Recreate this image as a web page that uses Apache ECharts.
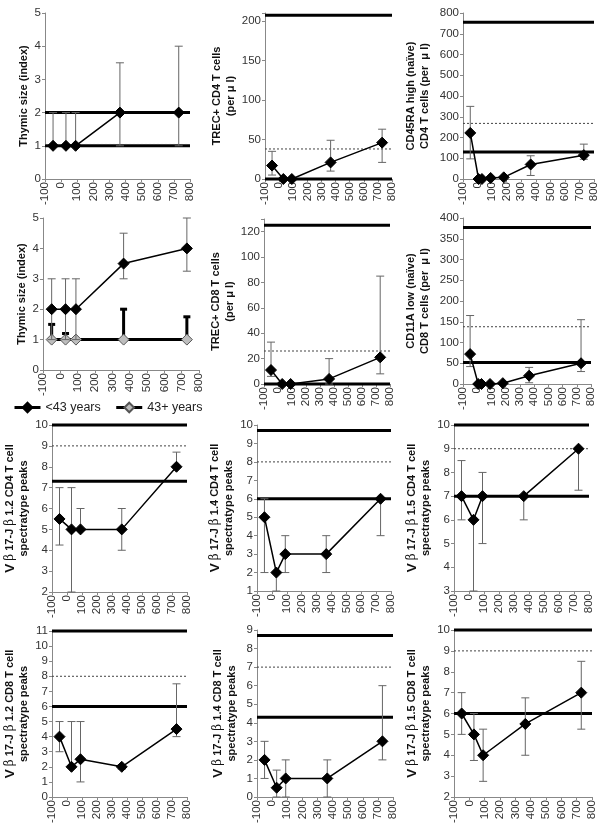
<!DOCTYPE html>
<html><head><meta charset="utf-8">
<script src="https://cdn.jsdelivr.net/npm/echarts@6/dist/echarts.min.js"></script>
<style>html,body{margin:0;padding:0;background:#fff}#c{width:604px;height:831px}</style>
</head><body><div id="c"></div>
<script>
// ---------- data ----------
const xTicks = [-100, 0, 100, 200, 300, 400, 500, 600, 700, 800];
const days5 = [-50, 30, 90, 365, 730];
const days7 = [-50, 7, 30, 90, 180, 365, 730];

const thymusAll = [1, 1, 1, 2, 2];
const thymusAllLo = [1, 1, 1, 1, 1];
const thymusAllHi = [2, 2, 2, 3.5, 4];

const trecCD4 = [17, 0, 0, 21, 46];
const trecCD4Lo = [5, 0, 0, 10, 21];
const trecCD4Hi = [35, 0, 0, 49, 63];

const naiveCD4 = [222, 0, 0, 5, 8, 70, 115];
const naiveCD4Lo = [97, 0, 0, 5, 8, 17, 95];
const naiveCD4Hi = [350, 0, 0, 5, 8, 112, 168];

const thymusYoung = [2, 2, 2, 3.5, 4];
const thymusYoungLo = [1, 1, 1, 3, 3.25];
const thymusYoungHi = [3, 3, 3, 4.5, 5];
const thymusOld = [1, 1, 1, 1, 1];
const thymusOldLo = [1, 1, 1, 1, 1];
const thymusOldHi = [1.5, 1.2, 1, 2, 1.75];

const trecCD8 = [11, 0, 0, 4, 21];
const trecCD8Lo = [6, 0, 0, 0, 8];
const trecCD8Hi = [33, 0, 0, 20, 85];

const naiveCD8 = [72, 0, 0, 0, 2, 20, 50];
const naiveCD8Lo = [42, 0, 0, 0, 2, 3, 30];
const naiveCD8Hi = [165, 0, 0, 0, 2, 40, 155];

const v12CD4 = [5.5, 5, 5, 5, 8];
const v12CD4Lo = [4.25, 2, 5, 4, 8];
const v12CD4Hi = [7, 7, 6, 6, 8.7];

const v14CD4 = [5, 2, 3, 3, 6];
const v14CD4Lo = [2, 1, 2, 2, 4];
const v14CD4Hi = [6, 2, 4, 4, 6];

const v15CD4 = [7, 6, 7, 7, 9];
const v15CD4Lo = [6, 3, 5, 6, 7.25];
const v15CD4Hi = [8.5, 6, 8, 7, 9];

const v12CD8 = [4, 2, 2.5, 2, 4.5];
const v12CD8Lo = [3, 2, 1, 1.85, 4];
const v12CD8Hi = [5, 5, 5, 2.15, 7.5];

const v14CD8 = [2, 0.5, 1, 1, 3];
const v14CD8Lo = [1, 0, 0, 0, 2];
const v14CD8Hi = [3, 1.45, 2, 2, 6];

const v15CD8 = [6, 5, 4, 5.5, 7];
const v15CD8Lo = [5, 3.75, 2.75, 4, 5.25];
const v15CD8Hi = [7, 6, 5.25, 6.75, 8.5];

// reference lines (thick solid / dotted)
const ref1Thick = [2, 1], ref1Dash = [1.04];
const ref2Thick = [207, 0], ref2Dash = [38];
const ref3Thick = [755, 130], ref3Dash = [268];
const ref5Thick = [125, 0], ref5Dash = [26];
const ref6Thick = [377, 52], ref6Dash = [138];
const ref7Thick = [10, 7.3], ref7Dash = [9];
const ref8Thick = [9.7, 6], ref8Dash = [8];
const ref9Thick = [10, 7], ref9Dash = [9];
const ref10Thick = [11, 6], ref10Dash = [8];
const ref11Thick = [8.7, 4.3], ref11Dash = [7];
const ref12Thick = [10, 6], ref12Dash = [9];

const youngName = '<43 years';
const oldName = '43+ years';

// ---------- layout ----------
const FONT = '"Liberation Sans", Arial, Helvetica, sans-serif';
const BLACK = {line: '#000', lw: 1.5, fill: '#000', border: '#000', err: '#666', errW: 1, cap: 8};
const GREY = {line: '#000', lw: 3, fill: '#bdbdbd', border: '#555', err: '#000', errW: 3, cap: 7};

function vbName(j, cd) {
  return '{v|V} {b|β} 17-J {b|β} ' + j + ' ' + cd + ' T cell\nspectratype peaks';
}

const panels = [
  {g: [45, 13, 145, 166], y: [0, 5, 1], name: 'Thymic size (index)', gap: 11, xs: days5,
   ser: [{v: thymusAll, lo: thymusAllLo, hi: thymusAllHi, st: BLACK}], thick: ref1Thick, dash: ref1Dash},
  {g: [265, 13, 127, 166], y: [0, 210, 50], name: 'TREC+ CD4 T cells\n(per μ l)', gap: 26, xs: days5,
   ser: [{v: trecCD4, lo: trecCD4Lo, hi: trecCD4Hi, st: BLACK}], thick: ref2Thick, dash: ref2Dash},
  {g: [463, 13, 131, 166], y: [0, 800, 100], name: 'CD45RA high (naïve)\nCD4 T cells (per  μ l)', gap: 31, xs: days7,
   ser: [{v: naiveCD4, lo: naiveCD4Lo, hi: naiveCD4Hi, st: BLACK}], thick: ref3Thick, dash: ref3Dash},
  {g: [43, 218, 156, 152], y: [0, 5, 1], name: 'Thymic size (index)', gap: 12, xs: days5,
   ser: [{v: thymusOld, lo: thymusOldLo, hi: thymusOldHi, st: GREY, name: oldName},
         {v: thymusYoung, lo: thymusYoungLo, hi: thymusYoungHi, st: BLACK, name: youngName}], thick: [], dash: []},
  {g: [264, 219, 126, 165], y: [0, 130, 20], name: 'TREC+ CD8 T cells\n(per μ l)', gap: 25, xs: days5,
   ser: [{v: trecCD8, lo: trecCD8Lo, hi: trecCD8Hi, st: BLACK}], thick: ref5Thick, dash: ref5Dash},
  {g: [463, 218, 128, 166], y: [0, 400, 50], name: 'CD11A low (naïve)\nCD8 T cells (per  μ l)', gap: 31, xs: days7,
   ser: [{v: naiveCD8, lo: naiveCD8Lo, hi: naiveCD8Hi, st: BLACK}], thick: ref6Thick, dash: ref6Dash},
  {g: [52, 425, 135, 167], y: [2, 10, 1], name: vbName('1.2', 'CD4'), gap: 8, xs: days5,
   ser: [{v: v12CD4, lo: v12CD4Lo, hi: v12CD4Hi, st: BLACK}], thick: ref7Thick, dash: ref7Dash},
  {g: [257, 425, 134, 166], y: [1, 10, 1], name: vbName('1.4', 'CD4'), gap: 18, xs: days5,
   ser: [{v: v14CD4, lo: v14CD4Lo, hi: v14CD4Hi, st: BLACK}], thick: ref8Thick, dash: ref8Dash},
  {g: [454, 425, 135, 166], y: [3, 10, 1], name: vbName('1.5', 'CD4'), gap: 15, xs: days5,
   ser: [{v: v15CD4, lo: v15CD4Lo, hi: v15CD4Hi, st: BLACK}], thick: ref9Thick, dash: ref9Dash},
  {g: [52, 631, 135, 166], y: [0, 11, 1], name: vbName('1.2', 'CD8'), gap: 8, xs: days5,
   ser: [{v: v12CD8, lo: v12CD8Lo, hi: v12CD8Hi, st: BLACK}], thick: ref10Thick, dash: ref10Dash},
  {g: [257, 630, 136, 167], y: [0, 9, 1], name: vbName('1.4', 'CD8'), gap: 18, xs: days5,
   ser: [{v: v14CD8, lo: v14CD8Lo, hi: v14CD8Hi, st: BLACK}], thick: ref11Thick, dash: ref11Dash},
  {g: [454, 630, 138, 167], y: [2, 10, 1], name: vbName('1.5', 'CD8'), gap: 15, xs: days5,
   ser: [{v: v15CD8, lo: v15CD8Lo, hi: v15CD8Hi, st: BLACK}], thick: ref12Thick, dash: ref12Dash}
];

function refRender(params, api) {
  const cs = params.coordSys;
  const y = api.coord([0, api.value(1)])[1];
  const thick = api.value(2) === 1;
  return {
    type: 'line',
    shape: {x1: cs.x, y1: y, x2: cs.x + cs.width, y2: y},
    style: thick ? {stroke: '#000', lineWidth: 3} : {stroke: '#444', lineWidth: 1, lineDash: [2, 2]}
  };
}

function makeErr(st) {
  return function (params, api) {
    const x = api.value(0), lo = api.value(1), hi = api.value(2), v = api.value(3);
    if (lo === hi) return null;
    const pLo = api.coord([x, lo]), pHi = api.coord([x, hi]);
    const s = {stroke: st.err, lineWidth: st.errW};
    const ch = [{type: 'line', shape: {x1: pLo[0], y1: pLo[1], x2: pHi[0], y2: pHi[1]}, style: s}];
    const h = st.cap / 2;
    if (hi !== v) ch.push({type: 'line', shape: {x1: pHi[0] - h, y1: pHi[1], x2: pHi[0] + h, y2: pHi[1]}, style: s});
    if (lo !== v) ch.push({type: 'line', shape: {x1: pLo[0] - h, y1: pLo[1], x2: pLo[0] + h, y2: pLo[1]}, style: s});
    return {type: 'group', children: ch};
  };
}

const grid = [], xAxis = [], yAxis = [], series = [];
panels.forEach((p, i) => {
  grid.push({left: p.g[0], top: p.g[1], width: p.g[2], height: p.g[3]});
  xAxis.push({
    gridIndex: i, type: 'value', min: xTicks[0], max: xTicks[xTicks.length - 1], interval: xTicks[1] - xTicks[0],
    splitLine: {show: false},
    axisLine: {onZero: false, lineStyle: {color: '#888', width: 1}},
    axisTick: {show: true, length: 3, lineStyle: {color: '#888'}},
    axisLabel: {rotate: 90, fontSize: 11.5, color: '#333', margin: 3, fontFamily: FONT}
  });
  const yint = p.y[2];
  yAxis.push({
    gridIndex: i, type: 'value', min: p.y[0], max: p.y[1], interval: yint,
    splitLine: {show: false},
    axisLine: {show: true, onZero: false, lineStyle: {color: '#888', width: 1}},
    axisTick: {show: true, length: 3, lineStyle: {color: '#888'}},
    axisLabel: {fontSize: 11.5, color: '#333', margin: 4, fontFamily: FONT,
      formatter: v => (Math.abs(v / yint - Math.round(v / yint)) < 1e-9 ? String(v) : '')},
    name: p.name, nameLocation: 'middle', nameRotate: 90, nameGap: p.gap,
    nameTextStyle: {fontFamily: FONT, fontWeight: 'bold', fontSize: 11, lineHeight: 14, color: '#111',
      rich: {
        v: {fontFamily: FONT, fontWeight: 'bold', fontSize: 13.5, lineHeight: 14, color: '#111'},
        b: {fontFamily: '"DejaVu Serif", serif', fontWeight: 'normal', fontSize: 12, lineHeight: 14, color: '#111'}
      }}
  });
  const refData = p.thick.map(v => [0, v, 1]).concat(p.dash.map(v => [0, v, 0]));
  if (refData.length) {
    series.push({type: 'custom', xAxisIndex: i, yAxisIndex: i, data: refData, renderItem: refRender,
      encode: {x: 0, y: 1}, clip: false, silent: true, z: 1});
  }
  p.ser.forEach((s, k) => {
    series.push({type: 'custom', xAxisIndex: i, yAxisIndex: i, renderItem: makeErr(s.st),
      data: p.xs.map((x, j) => [x, s.lo[j], s.hi[j], s.v[j]]), encode: {x: 0, y: [1, 2]},
      clip: false, silent: true, z: 2 + k * 2});
    series.push({type: 'line', name: s.name || ('panel' + (i + 1)), xAxisIndex: i, yAxisIndex: i,
      data: p.xs.map((x, j) => [x, s.v[j]]),
      symbol: 'diamond', symbolSize: 11, showSymbol: true,
      lineStyle: {color: s.st.line, width: s.st.lw},
      itemStyle: {color: s.st.fill, borderColor: s.st.border, borderWidth: 1},
      z: 3 + k * 2, animation: false, silent: true});
  });
});

const chart = echarts.init(document.getElementById('c'), null, {renderer: 'canvas'});
chart.setOption({
  animation: false,
  backgroundColor: '#fff',
  textStyle: {fontFamily: FONT},
  legend: {
    data: [youngName, oldName], left: 8, top: 396, itemWidth: 26, itemHeight: 12, itemGap: 14,
    lineStyle: {width: 3, color: '#000'},
    textStyle: {fontFamily: FONT, fontSize: 12.5, color: '#222'}, selectedMode: false
  },
  grid, xAxis, yAxis, series
});
</script>
</body></html>
